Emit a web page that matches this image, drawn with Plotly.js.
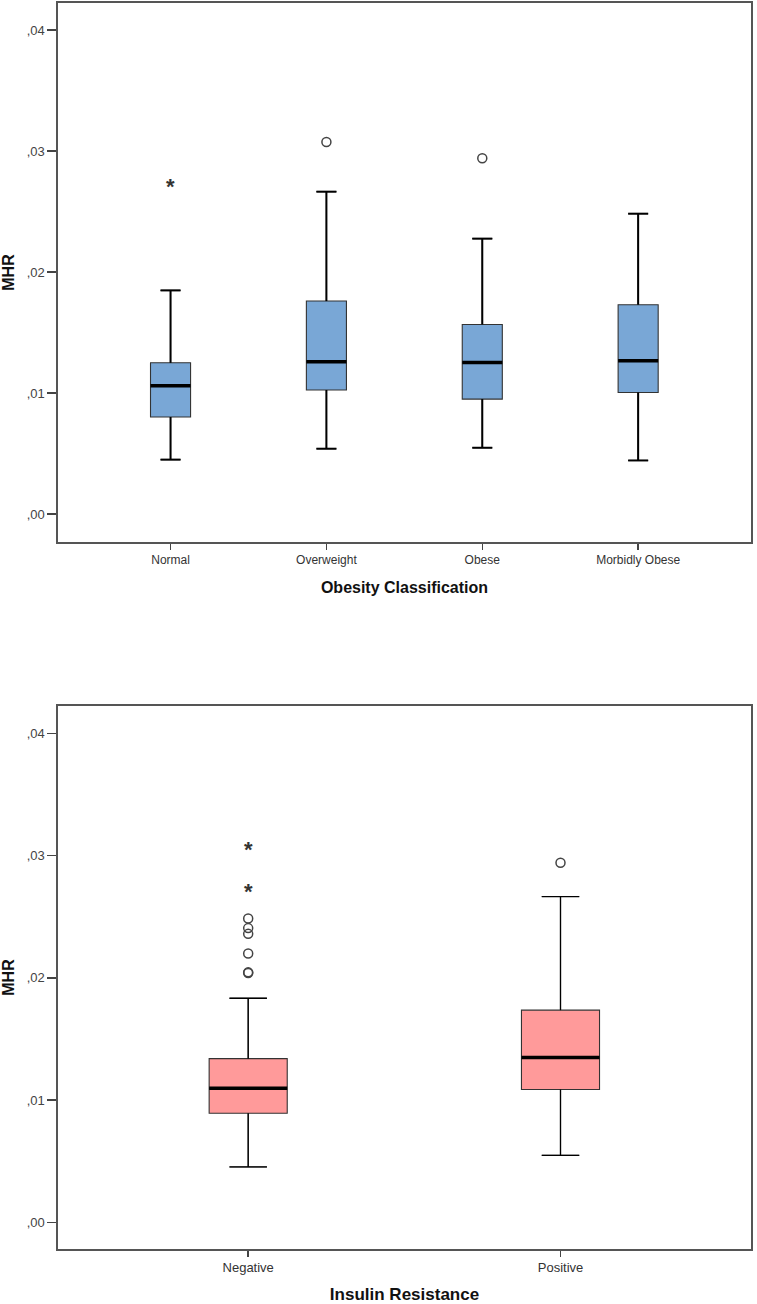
<!DOCTYPE html>
<html>
<head>
<meta charset="utf-8">
<script src="https://cdn.plot.ly/plotly-3.0.1.min.js"></script>
<style>html,body{margin:0;padding:0;background:#fff;}#chart{width:757px;height:1304px;}</style>
</head>
<body>
<div id="chart"></div>
<script>
// ---- Data: top chart (Obesity Classification) ----
const obesityCats = ["Normal", "Overweight", "Obese", "Morbidly Obese"];
const obLower  = [0.00450, 0.00540, 0.00548, 0.00443];
const obQ1     = [0.00802, 0.01025, 0.00950, 0.01005];
const obMedian = [0.01060, 0.01259, 0.01253, 0.01267];
const obQ3     = [0.01250, 0.01760, 0.01567, 0.01730];
const obUpper  = [0.01848, 0.02664, 0.02276, 0.02482];
// outliers: circles (mild) and asterisks (extreme), index of category
const obCircleX = [1, 2];
const obCircleY = [0.03074, 0.02940];
const obStarX = [0];
const obStarY = [0.02728];

// ---- Data: bottom chart (Insulin Resistance) ----
const irCats = ["Negative", "Positive"];
const irLower  = [0.00453, 0.00548];
const irQ1     = [0.00892, 0.01087];
const irMedian = [0.01096, 0.01348];
const irQ3     = [0.01339, 0.01736];
const irUpper  = [0.01833, 0.02665];
const irCircleX = [0, 0, 0, 0, 0, 0, 1];
const irCircleY = [0.02486, 0.02407, 0.02360, 0.02199, 0.02045, 0.02040, 0.02942];
const irStarX = [0, 0];
const irStarY = [0.03075, 0.02735];

const yTickVals = [0, 0.01, 0.02, 0.03, 0.04];
const yTickText = [",00", ",01", ",02", ",03", ",04"];

const FONT = "Liberation Sans, Arial, sans-serif";

function idx(arr){ return arr.map((_, i) => i); }

function boxTrace(cats, lo, q1, med, q3, up, fill, xa, ya, bw, ww){
  return {
    type: "box", x: idx(cats), q1: q1, median: med, q3: q3,
    lowerfence: lo, upperfence: up,
    xaxis: xa, yaxis: ya, width: bw, whiskerwidth: ww,
    fillcolor: fill, line: {color: "#333", width: 1.1},
    boxpoints: false, hoverinfo: "skip", showlegend: false
  };
}
function medianTrace(med, xa, ya, bw, lw){
  const x = [], y = [];
  med.forEach((m, i) => { x.push(i - bw/2, i + bw/2, null); y.push(m, m, null); });
  return {type: "scatter", mode: "lines", x: x, y: y, xaxis: xa, yaxis: ya,
    line: {color: "#000", width: lw}, hoverinfo: "skip", showlegend: false};
}
function whiskerTrace(lo, q1, q3, up, xa, ya, bw, ww, lw){
  const x = [], y = [];
  const c = bw * ww / 2;
  lo.forEach((l, i) => {
    x.push(i, i, null, i - c, i + c, null, i, i, null, i - c, i + c, null);
    y.push(q3[i], up[i], null, up[i], up[i], null, q1[i], l, null, l, l, null);
  });
  return {type: "scatter", mode: "lines", x: x, y: y, xaxis: xa, yaxis: ya,
    line: {color: "#000", width: lw}, hoverinfo: "skip", showlegend: false};
}
function circleTrace(x, y, xa, ya){
  return {type: "scatter", mode: "markers", x: x, y: y, xaxis: xa, yaxis: ya,
    marker: {symbol: "circle-open", size: 9, color: "#444", line: {color: "#444", width: 1.5}},
    hoverinfo: "skip", showlegend: false};
}
function starAnnotations(x, y, xa, ya){
  return x.map((xv, i) => ({
    xref: xa, yref: ya, x: xv, y: y[i], text: "*", showarrow: false,
    xanchor: "center", yanchor: "middle", yshift: -3,
    font: {family: FONT, size: 22, color: "#333", weight: "bold"}
  }));
}

const topBW = 0.257, topWW = 0.5;
const botBW = 0.25, botWW = 0.48;

const data = [
  boxTrace(obesityCats, obLower, obQ1, obMedian, obQ3, obUpper, "#79A7D6", "x2", "y2", topBW, topWW),
  whiskerTrace(obLower, obQ1, obQ3, obUpper, "x2", "y2", topBW, topWW, 2),
  medianTrace(obMedian, "x2", "y2", topBW, 3.5),
  circleTrace(obCircleX, obCircleY, "x2", "y2"),

  boxTrace(irCats, irLower, irQ1, irMedian, irQ3, irUpper, "#FF9A9A", "x", "y", botBW, botWW),
  whiskerTrace(irLower, irQ1, irQ3, irUpper, "x", "y", botBW, botWW, 1.3),
  medianTrace(irMedian, "x", "y", botBW, 3.5),
  circleTrace(irCircleX, irCircleY, "x", "y")
];

const frame = {showline: true, mirror: true, linecolor: "#555", linewidth: 1.6,
  showgrid: false, zeroline: false, ticks: "outside", tickcolor: "#444", tickwidth: 1.4};

const layout = {
  width: 757, height: 1304,
  margin: {l: 58, r: 6, t: 3, b: 55},
  paper_bgcolor: "#fff", plot_bgcolor: "#fff",
  font: {family: FONT, color: "#222"},
  showlegend: false,
  annotations: starAnnotations(obStarX, obStarY, "x2", "y2").concat(starAnnotations(irStarX, irStarY, "x", "y")),
  xaxis2: Object.assign({}, frame, {
    anchor: "y2", domain: [0, 1], range: [-0.722, 3.724],
    tickvals: idx(obesityCats), ticktext: obesityCats, ticklen: 6,
    tickfont: {family: FONT, size: 12, color: "#333"},
    title: {text: "Obesity Classification", font: {family: FONT, size: 16, color: "#111", weight: "bold"}, standoff: 16}
  }),
  yaxis2: Object.assign({}, frame, {
    anchor: "x2", domain: [0.5674, 1], range: [-0.00231, 0.04223],
    tickvals: yTickVals, ticktext: yTickText, ticklen: 9,
    tickfont: {family: FONT, size: 13, color: "#444"},
    title: {text: "MHR", font: {family: FONT, size: 16, color: "#111", weight: "bold"}, standoff: 8}
  }),
  xaxis: Object.assign({}, frame, {
    anchor: "y", domain: [0, 1], range: [-0.609, 1.61],
    tickvals: idx(irCats), ticktext: irCats, ticklen: 6,
    tickfont: {family: FONT, size: 13, color: "#333"},
    title: {text: "Insulin Resistance", font: {family: FONT, size: 17, color: "#111", weight: "bold"}, standoff: 14}
  }),
  yaxis: Object.assign({}, frame, {
    anchor: "x", domain: [0, 0.4358], range: [-0.00218, 0.04224],
    tickvals: yTickVals, ticktext: yTickText, ticklen: 9,
    tickfont: {family: FONT, size: 13, color: "#444"},
    title: {text: "MHR", font: {family: FONT, size: 16, color: "#111", weight: "bold"}, standoff: 8}
  })
};

Plotly.newPlot("chart", data, layout, {staticPlot: true, displayModeBar: false});
</script>
</body>
</html>
